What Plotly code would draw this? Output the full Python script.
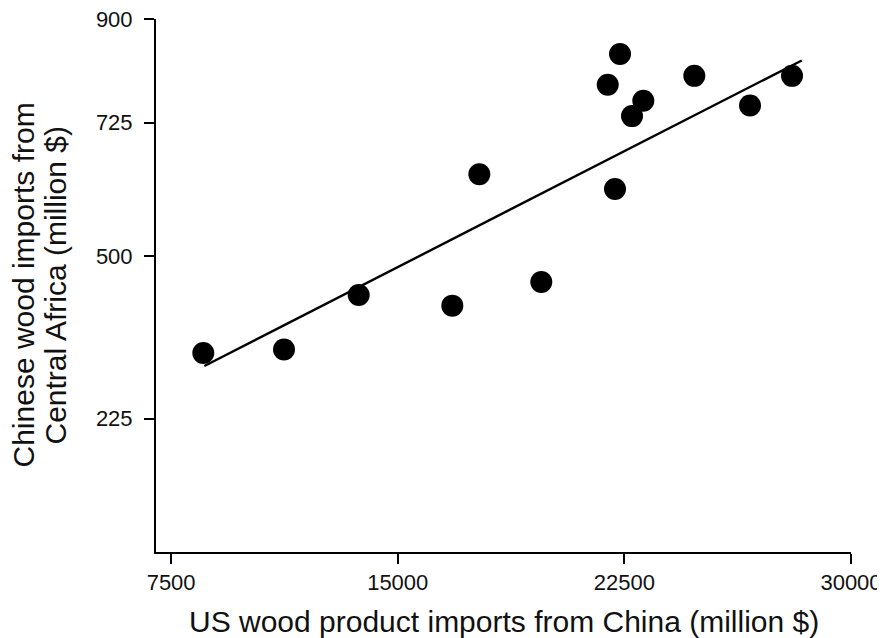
import plotly.graph_objects as go

# Data
us_imports_from_china = [8565, 11236, 13708, 16806, 17700, 19751, 22356, 21949,
                         23127, 22753, 24815, 26658, 28048, 22190]
chinese_imports_central_africa = [336, 342, 434, 416, 638, 456, 841, 789,
                                  762, 736, 804, 754, 804, 613]

# Fitted trend line end points
trend_x = [8600, 28370]
trend_y = [314, 830]

x_ticks = [7500, 15000, 22500, 30000]
y_ticks = [225, 500, 725, 900]

x_title = "US wood product imports from China (million $)"
y_title_lines = ["Chinese wood imports from", "Central Africa (million $)"]

FONT = "Liberation Sans, Arial, Helvetica, sans-serif"
INK = "#111111"

fig = go.Figure()
fig.add_trace(go.Scatter(
    x=trend_x, y=trend_y, mode="lines",
    line=dict(color="black", width=2.4), showlegend=False, hoverinfo="skip"))
fig.add_trace(go.Scatter(
    x=us_imports_from_china, y=chinese_imports_central_africa, mode="markers",
    marker=dict(color="black", size=22, line=dict(width=0)), showlegend=False))

axis_common = dict(
    showline=True, linecolor="black", linewidth=2,
    ticks="outside", ticklen=10, tickwidth=2, tickcolor="black",
    showgrid=False, zeroline=False, automargin=False,
    ticklabeloverflow="allow",
    tickfont=dict(size=22, family=FONT, color=INK),
)

# The page body adds an 8 px offset, so the figure is 8 px smaller and margins
# are reduced accordingly on the top/left.
fig.update_layout(
    width=877, height=630,
    margin=dict(l=148, r=34, t=11, b=86),
    paper_bgcolor="white", plot_bgcolor="white",
    font=dict(family=FONT, color=INK),
    xaxis=dict(range=[7000, 30000], tickvals=x_ticks,
               ticktext=[str(v) for v in x_ticks], ticklabelstandoff=0,
               **axis_common),
    yaxis=dict(range=[0, 900], tickvals=y_ticks,
               ticktext=[str(v) for v in y_ticks], ticklabelstandoff=7,
               **axis_common),
)

# Axis titles as annotations for precise placement
fig.add_annotation(text=x_title, xref="paper", yref="paper", x=0.5, y=0,
                   xanchor="center", yanchor="middle", yshift=-69,
                   showarrow=False, font=dict(size=30, family=FONT, color=INK))
for i, line in enumerate(y_title_lines):
    fig.add_annotation(text=line, xref="paper", yref="paper", x=0, y=0.5,
                       xanchor="center", yanchor="middle", textangle=-90,
                       xshift=-133 + 32 * i,
                       showarrow=False, font=dict(size=30, family=FONT, color=INK))

fig.write_html("out.html")
